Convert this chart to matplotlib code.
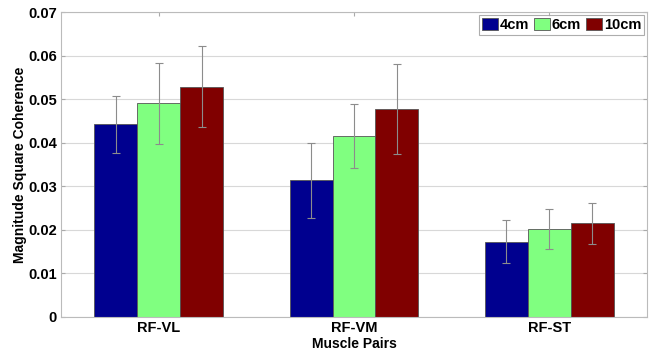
import matplotlib
matplotlib.use("Agg")
import matplotlib.pyplot as plt
import numpy as np

categories = ["RF-VL", "RF-VM", "RF-ST"]
series_names = ["4cm", "6cm", "10cm"]
means_4cm = [0.0442, 0.0314, 0.0173]
means_6cm = [0.0491, 0.0415, 0.0202]
means_10cm = [0.0529, 0.0477, 0.0215]
err_4cm = [0.0066, 0.0086, 0.0049]
err_6cm = [0.0093, 0.0074, 0.0047]
err_10cm = [0.0092, 0.0104, 0.0047]
colors = ["#00008F", "#80FF80", "#800000"]

plt.rcParams['font.family'] = ['Liberation Sans', 'DejaVu Sans']
plt.rcParams['font.weight'] = 'bold'

fig = plt.figure(figsize=(6.52, 3.53), dpi=100)
ax = fig.add_axes([0.0936, 0.102, 0.8987, 0.864])

x = np.arange(1, len(categories) + 1)
w = 0.22
means = [means_4cm, means_6cm, means_10cm]
errs = [err_4cm, err_6cm, err_10cm]
for i, (m, e, c, n) in enumerate(zip(means, errs, colors, series_names)):
    pos = x + (i - 1) * w
    ax.bar(pos, m, width=w, color=c, edgecolor="#555555", linewidth=0.6, label=n, zorder=2)
    ax.errorbar(pos, m, yerr=e, fmt='none', ecolor="#8c8c8c", elinewidth=0.8,
                capsize=3, capthick=0.8, zorder=3)

ax.set_xlim(0.5, 3.5)
ax.set_ylim(0, 0.07)
ax.set_yticks(np.arange(0, 0.071, 0.01))
ax.set_yticklabels(["0", "0.01", "0.02", "0.03", "0.04", "0.05", "0.06", "0.07"])
ax.set_xticks(x)
ax.set_xticklabels(categories)
ax.grid(axis='y', color="#d8d8d8", linewidth=0.8, zorder=0)
ax.set_axisbelow(True)
ax.tick_params(axis='both', labelsize=10.5, length=3, color="#aaaaaa", direction='in',
               top=True, right=True, pad=3)
for s in ax.spines.values():
    s.set_color("#bbbbbb")
    s.set_linewidth(0.8)

ax.set_ylabel("Magnitude Square Coherence", fontsize=10, fontweight='bold', labelpad=1)
ax.set_xlabel("Muscle Pairs", fontsize=10, fontweight='bold', labelpad=1)

leg = ax.legend(loc='upper right', ncol=3, fontsize=10.5, frameon=True, fancybox=False,
                edgecolor="#999999", handlelength=1.1, handleheight=0.9, handletextpad=0.15,
                columnspacing=0.3, borderpad=0.2, borderaxespad=0.2)
leg.get_frame().set_linewidth(0.8)

fig.savefig("out.png", dpi=100)
